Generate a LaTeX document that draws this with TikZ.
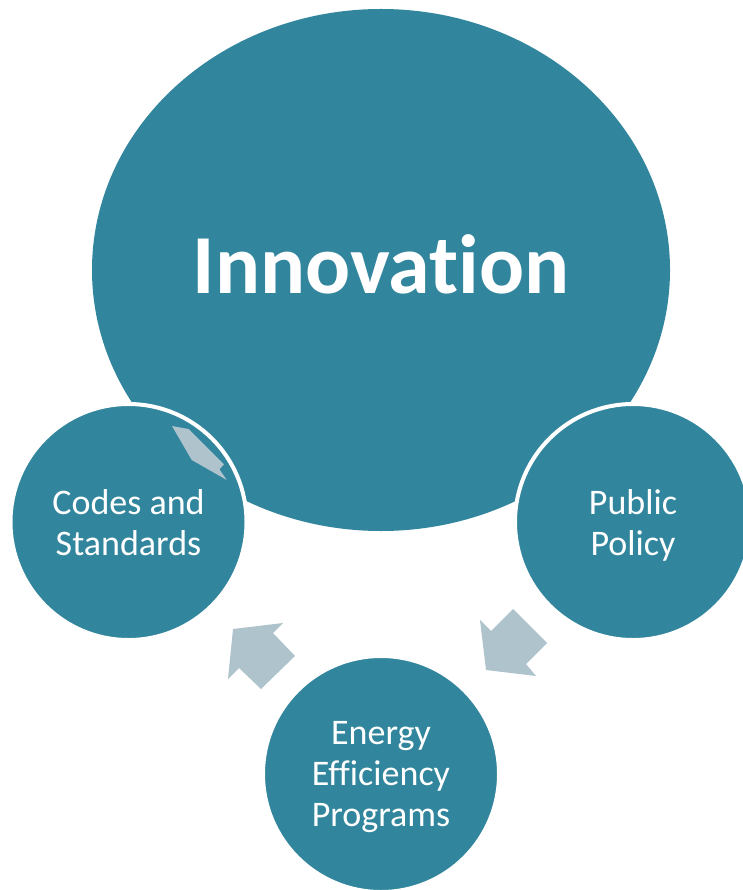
\documentclass[tikz,border=0pt]{standalone}
\usepackage{fontspec}
\setmainfont{Carlito}[Ligatures={NoCommon}]
\usetikzlibrary{shapes.geometric}
\definecolor{teal5}{HTML}{31859C}
\definecolor{arrowgrey}{HTML}{AFC3CD}
\tikzset{
  bigbubble/.style={ellipse, fill=teal5, inner sep=0pt, text=white,
    minimum width=578pt, minimum height=522pt, text height=47pt, text depth=0pt,
    font=\fontsize{84}{92}\selectfont\bfseries},
  smallbubble/.style={circle, fill=teal5, draw=white, line width=4pt,
    inner sep=0pt, minimum size=236pt, text=white, align=center, text depth=0pt,
    font=\fontsize{36}{41}\selectfont},
  blockarrow/.style={fill=arrowgrey, draw=none}
}
\begin{document}
\begin{tikzpicture}[x=1pt,y=-1pt]
\useasboundingbox (0,0) rectangle (742,890);
\node[bigbubble] (innov) at (381,270) {Innovation};
\node[smallbubble] (codes) at (128.5,522) {Codes and\\Standards};
\node[smallbubble] (policy) at (633,522) {Public\\Policy};
\node[smallbubble] (energy) at (381,774) {Energy\\Efficiency\\Programs};
\fill[blockarrow] (172,426) -- (188.5,429) -- (224,464.3) -- (219.5,469.3) -- (226.7,480) -- (191.7,460) -- cycle;
\fill[blockarrow] (480,620) -- (491,631) -- (513,609) -- (547,643) -- (526,664) -- (536,676) -- (486,670) -- cycle;
\fill[blockarrow] (233,629) -- (283,623) -- (273,633) -- (295,656) -- (261,689) -- (239,668) -- (228,679) -- cycle;
\end{tikzpicture}
\end{document}
